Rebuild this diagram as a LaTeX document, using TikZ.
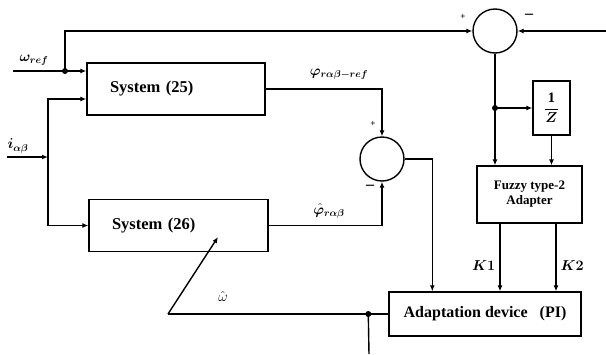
\documentclass[tikz,border=0pt]{standalone}
\usepackage{fontspec}
\usepackage{amsmath,bm}
\setmainfont{Liberation Serif}
\usetikzlibrary{arrows.meta,positioning,calc}
\tikzset{
  blk/.style={draw, line width=1.4pt, inner sep=0pt, align=center, font=\bfseries},
  sysblk/.style={blk, minimum height=52pt, text width=132pt, inner xsep=23pt, align=left, font=\fontsize{16.5}{18}\selectfont\bfseries},
  sumnode/.style={draw, circle, line width=1.4pt, minimum size=44pt, inner sep=0pt},
  wire/.style={line width=1.4pt},
  sig/.style={wire, -{Latex[length=6pt,width=5pt]}},
  jdot/.style={circle, fill, inner sep=0pt, minimum size=6pt},
  sgn/.style={font=\bfseries\fontsize{9}{9}\selectfont, inner sep=0pt},
  minus/.style={font=\bfseries\fontsize{16}{16}\selectfont, inner sep=0pt},
  lbl/.style={font=\fontsize{14.4}{16}\selectfont, inner sep=0pt}
}

\begin{document}
\begin{tikzpicture}[x=1pt, y=-1pt]
\useasboundingbox (0,0) rectangle (606,354);
% blocks
\node[sysblk] (sys25) at (176,89) {System (25)};
\node[sysblk, text width=133pt] (sys26) at (178.5,225.5) {System (26)};
\node[sumnode] (sum1) at (495,31) {};
\node[sumnode] (sum2) at (382,159) {};
\node[blk, minimum width=37pt, minimum height=54pt, font=\fontsize{14.4}{16}\selectfont] (invz) at (551.5,108) {$\dfrac{\mathbf{1}}{\bm{Z}}$};
\node[blk, minimum width=105pt, minimum height=57pt, font=\fontsize{13}{15}\selectfont\bfseries] (fuzzy) at (529.5,194.5) {Fuzzy type-2\\Adapter};
\node[blk, minimum width=192pt, minimum height=44pt, font=\fontsize{16}{18}\selectfont\bfseries] (adapt) at (485,314) {Adaptation device \ \ (PI)};

% points
\coordinate (wref) at (13,71);
\node[jdot] (j1) at (65,71) {};
\coordinate (iab) at (7,157);
\coordinate (isplit) at (48,157);
\coordinate (in25) at (48,99);
\node[jdot] (j2) at (sum1 |- invz) {};
\node[jdot] (j3) at ($(adapt.west)+(-20,0)$) {};
\coordinate (wcorner) at (168,314);
\coordinate (wtip) at (218,237);
\coordinate (fb) at (369,354);
\coordinate (sum1in) at (606,31);
\coordinate (k1) at (500,0);
\coordinate (k2) at (556,0);

% connections
\draw[sig] (wref) -- (j1.center) -- (wref -| sys25.west);
\draw[sig] (j1.center) |- (sum1.west);
\draw[sig] (sum1in) -- (sum1.east);
\draw[sig] (iab) -- (isplit);
\draw[sig] (isplit) -- (in25) -- (in25 -| sys25.west);
\draw[sig] (isplit) |- (sys26.west);
\draw[sig] (sys25.east) -| (sum2.north);
\draw[sig] (sys26.east) -| (sum2.south);
\draw[sig] (sum2.east) -| ($(adapt.north west)+(44,0)$);
\draw[sig] (sum1.south) -- (sum1.south |- fuzzy.north);
\draw[sig] (j2.center) -- (invz.west);
\draw[sig] (invz.south) -- (invz.south |- fuzzy.north);
\draw[sig] (k1 |- fuzzy.south) -- node[lbl, pos=0.62, left=4pt] (lk1) {$\bm{K1}$} (k1 |- adapt.north);
\draw[sig] (k2 |- fuzzy.south) -- node[lbl, pos=0.62, right=4pt] (lk2) {$\bm{K2}$} (k2 |- adapt.north);
\draw[wire] (adapt.west) -- (wcorner);
\draw[sig] (wcorner) -- (wtip);
\draw[wire] (j3.center) -- (fb);

% signs and labels
\node[sgn] (p1) at (463,17) {+};
\node[minus] (m1) at (529,16) {--};
\node[sgn] (p2) at (373,124) {+};
\node[minus] (m2) at (370,187) {--};
\node[lbl] (lwref) at (34,60) {$\bm{\omega_{ref}}$};
\node[lbl] (liab) at (18,146) {$\bm{i_{\alpha\beta}}$};
\node[lbl] (lphiref) at (339,74) {$\bm{\varphi_{r\alpha\beta-ref}}$};
\node[lbl] (lphihat) at (329,211) {$\bm{\hat{\varphi}_{r\alpha\beta}}$};
\node[lbl] (lwhat) at (223,296) {$\hat{\omega}$};
\end{tikzpicture}
\end{document}
